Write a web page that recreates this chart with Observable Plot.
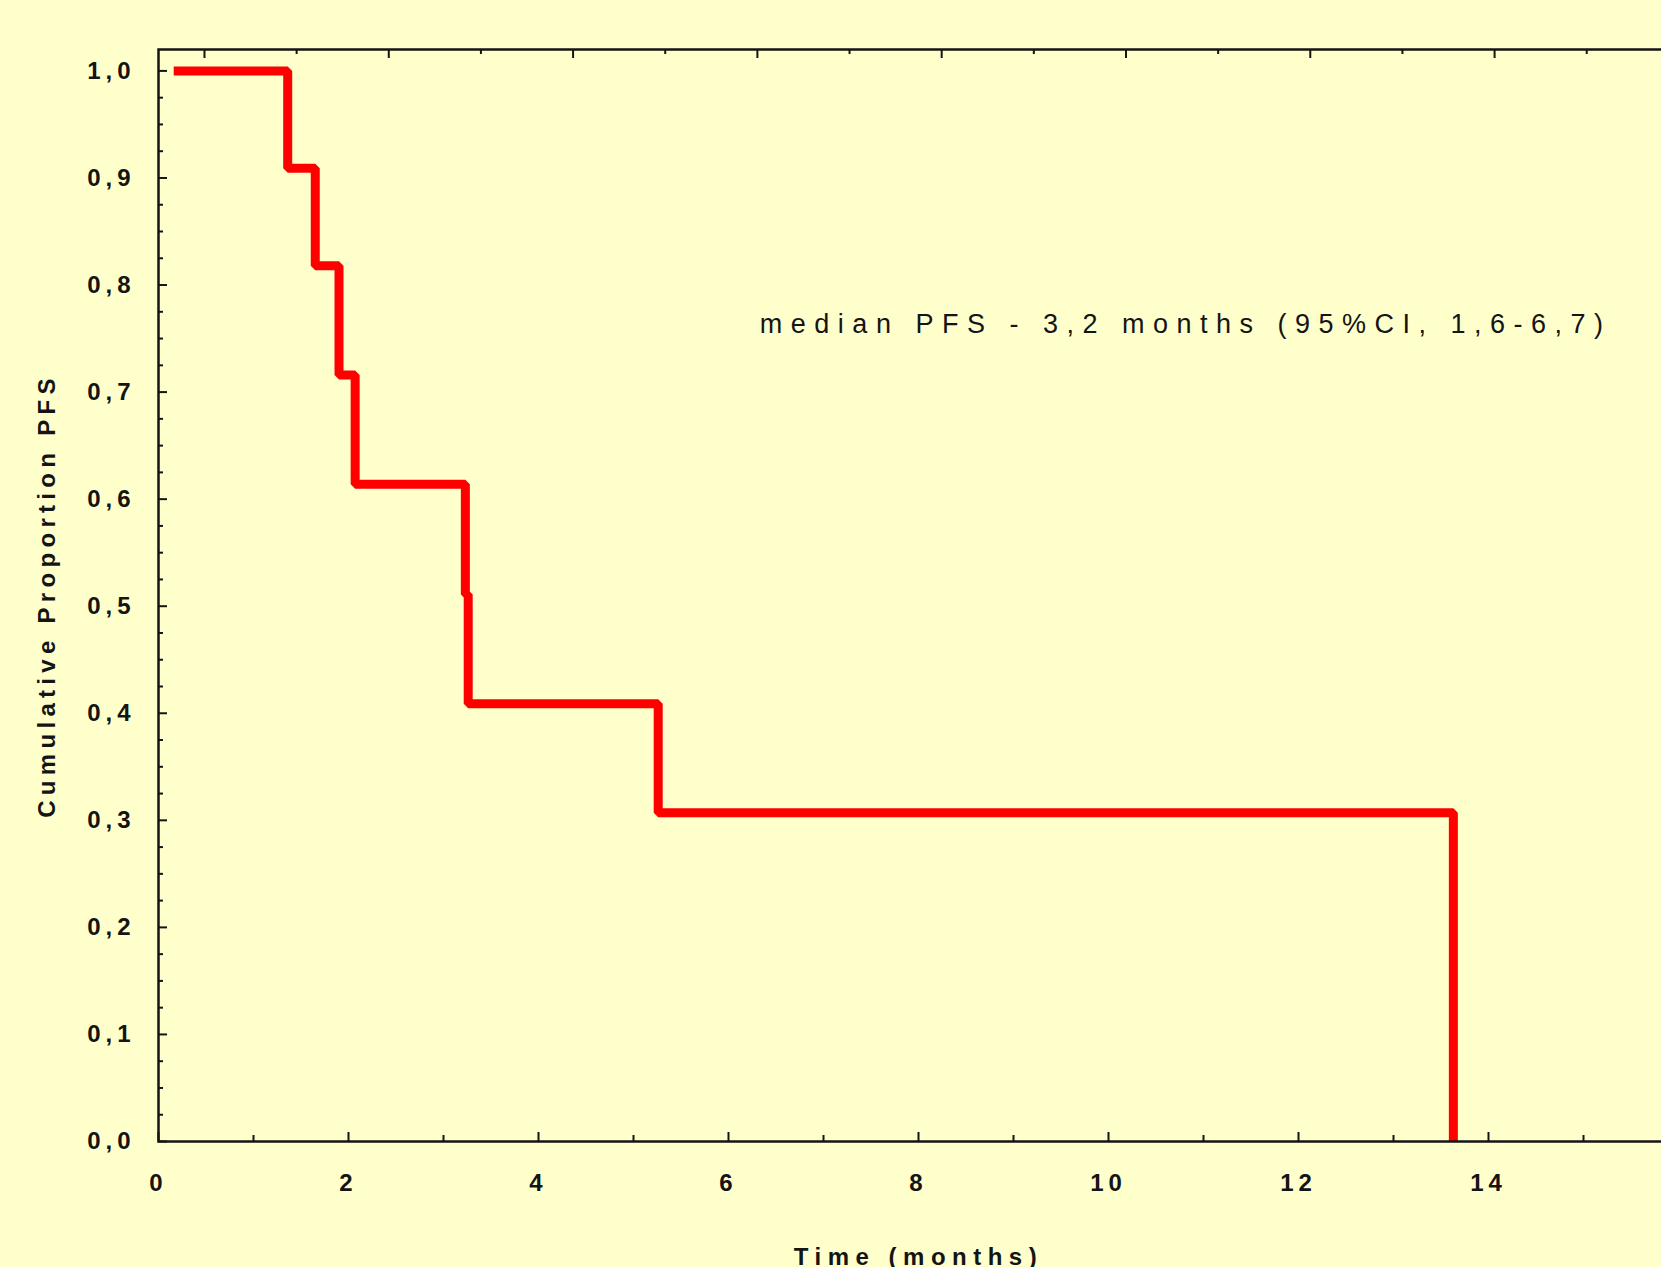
<!DOCTYPE html>
<html>
<head>
<meta charset="utf-8">
<script src="https://cdn.jsdelivr.net/npm/d3@7"></script>
<script src="https://cdn.jsdelivr.net/npm/@observablehq/plot@0.6"></script>
<style>
  html, body { margin: 0; padding: 0; background: #FFFFCC; overflow: hidden; }
  #chart svg { max-width: none !important; height: 1267px !important; display: block; }
</style>
</head>
<body>
<div id="chart"></div>
<script>
// Kaplan–Meier step points (time in months, cumulative proportion PFS)
const times    = [0.16, 1.36, 1.65, 1.90, 2.07, 3.23, 3.26, 5.26, 13.63];
const survival = [1.000, 0.909, 0.818, 0.716, 0.614, 0.511, 0.409, 0.307, 0.000];

// Axis ticks
const xTicks   = [0, 2, 4, 6, 8, 10, 12, 14, 16];
const xMinor   = [1, 3, 5, 7, 9, 11, 13, 15];
const yTicks   = [0.0, 0.1, 0.2, 0.3, 0.4, 0.5, 0.6, 0.7, 0.8, 0.9, 1.0];
const yMinor   = [0.025,0.05,0.075,0.125,0.15,0.175,0.225,0.25,0.275,0.325,0.35,0.375,
                  0.425,0.45,0.475,0.525,0.55,0.575,0.625,0.65,0.675,0.725,0.75,0.775,
                  0.825,0.85,0.875,0.925,0.95,0.975];
const topMajor = [0.484, 2.424, 4.364, 6.304, 8.244, 10.184, 12.124, 14.064];
const topMinor = [1.454, 3.394, 5.334, 7.274, 9.214, 11.154, 13.094, 15.034];

const note = "median PFS - 3,2 months (95%CI, 1,6-6,7)";
const noteX = 6.33, noteY = 0.763;
const xTitle = "Time (months)";
const yTitle = "Cumulative Proportion PFS";

const km = times.map((t, i) => ({time: t, surv: survival[i]}));

const W = 1700, H = 1267, mL = 158, mR = 22, mT = 49, mB = 126;
const frameW = W - mL - mR, frameH = H - mT - mB;
const ink = "#141414";

const chart = Plot.plot({
  width: W, height: H,
  marginLeft: mL, marginRight: mR, marginTop: mT, marginBottom: mB,
  style: {
    background: "#FFFFCC", color: ink,
    fontFamily: "'Liberation Sans', Arial, sans-serif",
    fontSize: "24px", fontWeight: "bold", letterSpacing: "5px", overflow: "hidden",
    maxWidth: "none"
  },
  x: {domain: [0, 16]},
  y: {domain: [0, 1.02]},
  marks: [
    Plot.line(km, {x: "time", y: "surv", curve: "step-after", stroke: "#FF0000",
      strokeWidth: 9, strokeLinejoin: "miter", strokeLinecap: "butt"}),
    Plot.frame({stroke: ink, strokeWidth: 2.5}),
    Plot.tickX(xTicks, {stroke: ink, strokeWidth: 2, insetTop: frameH - 9}),
    Plot.tickX(xMinor, {stroke: ink, strokeWidth: 2, insetTop: frameH - 6}),
    Plot.tickX(topMajor, {stroke: ink, strokeWidth: 2, insetBottom: frameH - 9}),
    Plot.tickX(topMinor, {stroke: ink, strokeWidth: 2, insetBottom: frameH - 5}),
    Plot.tickY(yTicks, {stroke: ink, strokeWidth: 2, insetRight: frameW - 9}),
    Plot.tickY(yMinor, {stroke: ink, strokeWidth: 2, insetRight: frameW - 5}),
    Plot.axisX({ticks: xTicks, tickSize: 0, tickPadding: 32, tickFormat: d => String(d), label: null}),
    Plot.axisY({ticks: yTicks, tickSize: 0, tickPadding: 23,
      tickFormat: d => d.toFixed(1).replace(".", ","), label: null}),
    Plot.text([xTitle], {frameAnchor: "bottom", textAnchor: "middle", dy: 106, lineAnchor: "top", fill: ink}),
    Plot.text([yTitle], {frameAnchor: "left", textAnchor: "middle", rotate: -90, dx: -111,
      lineAnchor: "middle", fill: ink}),
    Plot.text([note], {x: () => noteX, y: () => noteY, textAnchor: "start", lineAnchor: "middle",
      fontSize: 27, fontWeight: "normal", fill: ink})
  ]
});

chart.querySelectorAll("text").forEach(t => {
  const s = t.textContent;
  if (s.startsWith("median")) t.style.letterSpacing = "8.5px";
  else if (s.startsWith("Time")) t.style.letterSpacing = "6.5px";
  else if (s.startsWith("Cumulative")) t.style.letterSpacing = "5.3px";
});
document.getElementById("chart").appendChild(chart);
</script>
</body>
</html>
